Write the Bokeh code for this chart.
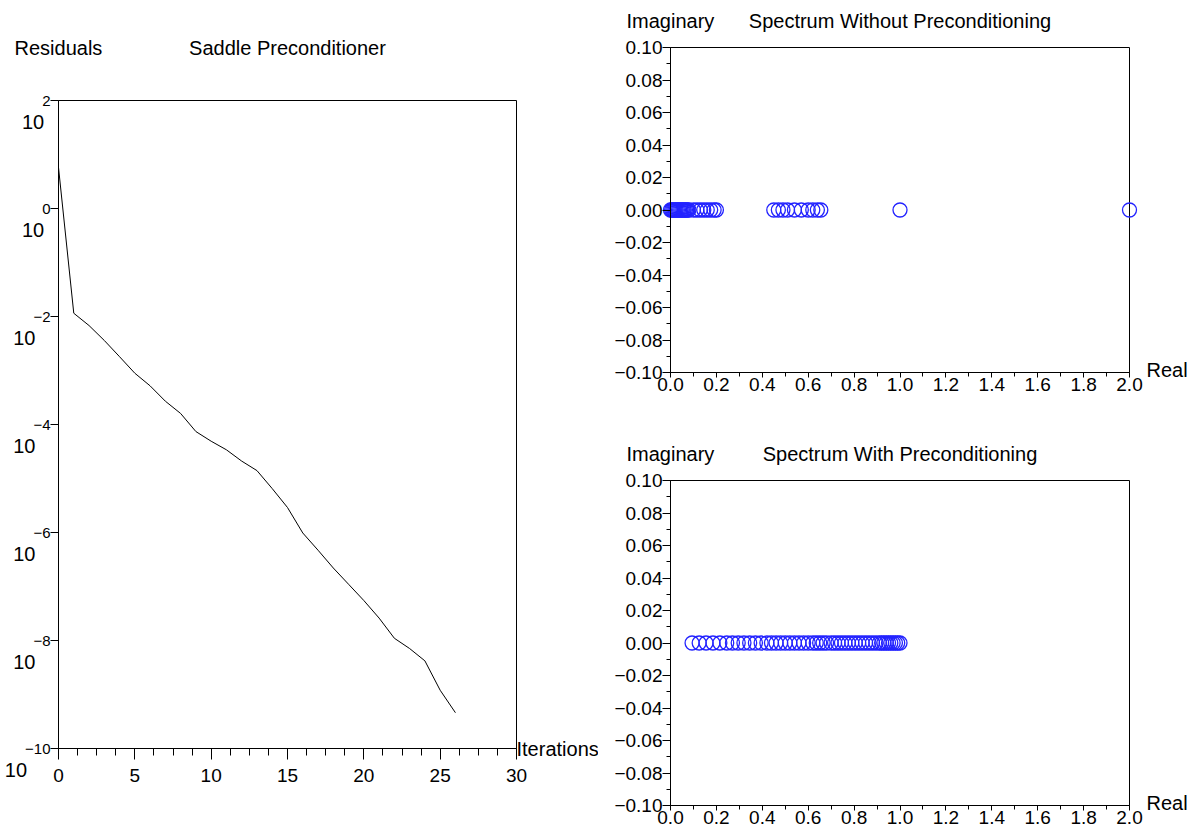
import math
from bokeh.plotting import figure
from bokeh.models import (Range1d, FixedTicker, SingleIntervalTicker, CustomJSTickFormatter,
                          Label, LabelSet, ColumnDataSource, BoxAnnotation)
from bokeh.core.properties import value
from bokeh.layouts import row, column
from bokeh.embed import file_html
from bokeh.resources import INLINE

# ---------------- data ----------------
iterations = [0, 1, 2, 3, 4, 5, 6, 7, 8, 9, 10, 11, 12, 13, 14, 15, 16, 17, 18, 19,
              20, 21, 22, 23, 24, 25, 26]
residuals = [5.75, 1.15e-2, 6.8e-3, 3.6e-3, 1.8e-3, 8.9e-4, 5.2e-4, 2.7e-4, 1.6e-4,
             7.4e-5, 4.9e-5, 3.4e-5, 2.1e-5, 1.4e-5, 6.5e-6, 2.9e-6, 9.8e-7, 4.7e-7,
             2.2e-7, 1.1e-7, 5.5e-8, 2.6e-8, 1.1e-8, 7.1e-9, 4.2e-9, 1.2e-9, 4.6e-10]
residual_ticks = [1e2, 1e0, 1e-2, 1e-4, 1e-6, 1e-8, 1e-10]

real_no_prec = [0.0, 0.005, 0.01, 0.015, 0.02, 0.025, 0.03, 0.035, 0.04, 0.045, 0.05,
                0.055, 0.06, 0.065, 0.07, 0.075, 0.08, 0.10, 0.115, 0.13, 0.145, 0.16,
                0.175, 0.19, 0.20, 0.45, 0.47, 0.49, 0.51, 0.54, 0.57, 0.60, 0.62, 0.64,
                0.655, 1.0, 2.0]
imag_no_prec = [0.0 for _ in real_no_prec]

real_prec = [0.094, 0.125, 0.155, 0.185, 0.215, 0.245, 0.27, 0.295, 0.32, 0.345, 0.37,
             0.395, 0.42, 0.44, 0.46, 0.48, 0.50, 0.52, 0.54, 0.56, 0.58, 0.60, 0.62,
             0.635, 0.65, 0.665, 0.68, 0.70, 0.715, 0.73, 0.745, 0.76, 0.775, 0.79,
             0.805, 0.82, 0.835, 0.85, 0.865, 0.88, 0.895, 0.91, 0.92, 0.93, 0.94,
             0.95, 0.96, 0.97, 0.98, 0.99, 1.0]
imag_prec = [0.0 for _ in real_prec]

FONT = "Liberation Sans"
BLUE = "#2323ff"
PAGE_H = 835
TITLE_SIZE = "20px"
EXP_SIZE = 15


def bare_figure(w, h, x_range, y_range, y_axis_type="linear"):
    p = figure(width=w, height=h, output_backend="svg", toolbar_location=None,
               x_range=x_range, y_range=y_range, y_axis_type=y_axis_type,
               min_border=0, min_border_left=0, min_border_right=0,
               min_border_top=0, min_border_bottom=0, title=None)
    p.xgrid.visible = False
    p.ygrid.visible = False
    p.outline_line_color = None
    p.background_fill_color = "white"
    p.border_fill_color = "white"
    for ax in (p.xaxis[0], p.yaxis[0]):
        ax.axis_line_color = "black"
        ax.major_tick_line_color = "black"
        ax.minor_tick_line_color = "black"
        ax.major_tick_in = 0
        ax.minor_tick_in = 0
        ax.major_label_text_font = FONT
        ax.major_label_text_font_size = "19px"
        ax.major_label_text_color = "black"
    return p


def add_box(p, l, r, b, t):
    p.add_layout(BoxAnnotation(left=l, right=r, bottom=b, top=t, fill_alpha=0,
                               line_color="black", line_alpha=1.0, line_width=1,
                               level="underlay"))


def add_label(p, text, x, y, dx, dy, align="left", size=TITLE_SIZE):
    p.add_layout(Label(x=x, y=y, x_offset=dx, y_offset=dy, text=text,
                       text_align=align, text_baseline="middle",
                       text_font=FONT, text_font_size=size, text_color="black"))


# ---------------- left: residuals ----------------
LW = 598
L_BOX = (58, 516, 100, 748)          # left, right, top, bottom in canvas px
x0, x1 = 0, 30
e0, e1 = -10, 2
kx = (L_BOX[1] - L_BOX[0]) / (x1 - x0)
kd = (e1 - e0) / (L_BOX[3] - L_BOX[2])
left = bare_figure(
    LW, PAGE_H,
    Range1d(x0 - L_BOX[0] / kx, x1 + (LW - L_BOX[1]) / kx),
    Range1d(10 ** (e0 - (PAGE_H - L_BOX[3]) * kd), 10 ** (e1 + L_BOX[2] * kd)),
    y_axis_type="log")
add_box(left, x0, x1, 10 ** e0, 10 ** e1)
left.line(iterations, residuals, line_color="black", line_width=1)

left.xaxis.fixed_location = 10 ** e0
left.xaxis.bounds = (x0, x1)
left.xaxis.ticker = SingleIntervalTicker(interval=5, num_minor_ticks=4)
left.xaxis.major_tick_out = 11
left.xaxis.minor_tick_out = 7
left.xaxis.major_label_standoff = 9

left.yaxis.fixed_location = x0
left.yaxis.bounds = (10 ** e0, 10 ** e1)
left.yaxis.ticker = FixedTicker(ticks=residual_ticks, minor_ticks=[])
left.yaxis.major_tick_out = 8
left.yaxis.major_label_standoff = 0
left.yaxis.major_label_text_font_size = f"{EXP_SIZE}px"
left.yaxis.formatter = CustomJSTickFormatter(code="""
    const e = Math.round(Math.log10(tick));
    return e < 0 ? "\\u2212" + (-e) : "" + e;
""")

exp_strings = [("\u2212" + str(-k)) if k < 0 else str(k)
               for k in [round(math.log10(t)) for t in residual_ticks]]
exp_widths = [sum(0.584 if c == "\u2212" else 0.556 for c in s) * EXP_SIZE
              for s in exp_strings]
base_src = ColumnDataSource(dict(
    x=[x0 for _ in residual_ticks], y=residual_ticks,
    text=["10" for _ in residual_ticks],
    dx=[-(8 + w - 2) for w in exp_widths]))
left.add_layout(LabelSet(x="x", y="y", text="text", source=base_src, x_offset="dx",
                         y_offset=-21, text_align="right", text_baseline="middle",
                         text_font=value(FONT), text_font_size=value("20px"),
                         text_color="black"))

add_label(left, "Residuals", x0, 10 ** e1, -44, 53)
add_label(left, "Saddle Preconditioner", (x0 + x1) / 2, 10 ** e1, 0, 53, align="center")
add_label(left, "Iterations", x1, 10 ** e0, 0, 0)


# ---------------- right: spectra ----------------
RW = 596


def spectrum_fig(h, box, xs, ys, title):
    rx0, rx1, ry0, ry1 = 0.0, 2.0, -0.1, 0.1
    sx = (box[1] - box[0]) / (rx1 - rx0)
    sy = (box[3] - box[2]) / (ry1 - ry0)
    p = bare_figure(RW, h,
                    Range1d(rx0 - box[0] / sx, rx1 + (RW - box[1]) / sx),
                    Range1d(ry0 - (h - box[3]) / sy, ry1 + box[2] / sy))
    add_box(p, rx0, rx1, ry0, ry1)
    p.scatter(xs, ys, marker="circle", size=14, fill_color=None, line_color=BLUE,
              line_width=1.3)
    p.xaxis.fixed_location = ry0
    p.xaxis.bounds = (rx0, rx1)
    p.xaxis.ticker = SingleIntervalTicker(interval=0.2, num_minor_ticks=2)
    p.xaxis.major_tick_out = 5
    p.xaxis.minor_tick_out = 4
    p.xaxis.major_label_standoff = 0
    p.xaxis.formatter = CustomJSTickFormatter(code="return tick.toFixed(1);")
    p.yaxis.fixed_location = rx0
    p.yaxis.bounds = (ry0, ry1)
    p.yaxis.ticker = SingleIntervalTicker(interval=0.02, num_minor_ticks=2)
    p.yaxis.major_tick_out = 8
    p.yaxis.minor_tick_out = 4
    p.yaxis.major_label_standoff = 0
    p.yaxis.formatter = CustomJSTickFormatter(code="""
        if (Math.abs(tick) < 1e-9) return "0.00";
        return tick < 0 ? "\\u2212" + (-tick).toFixed(2) : tick.toFixed(2);
    """)
    add_label(p, "Imaginary", rx0, ry1, -44, 27)
    add_label(p, title, (rx0 + rx1) / 2, ry1, 0, 27, align="center")
    add_label(p, "Real", rx1, ry0, 17, 3)
    return p


top_right = spectrum_fig(416, (72, 531, 47, 372), real_no_prec, imag_no_prec,
                         "Spectrum Without Preconditioning")
bottom_right = spectrum_fig(419, (72, 531, 64, 389), real_prec, imag_prec,
                            "Spectrum With Preconditioning")

layout = row(left, column(top_right, bottom_right, spacing=0), spacing=0)

open("out.html", "w").write(file_html(layout, INLINE))
